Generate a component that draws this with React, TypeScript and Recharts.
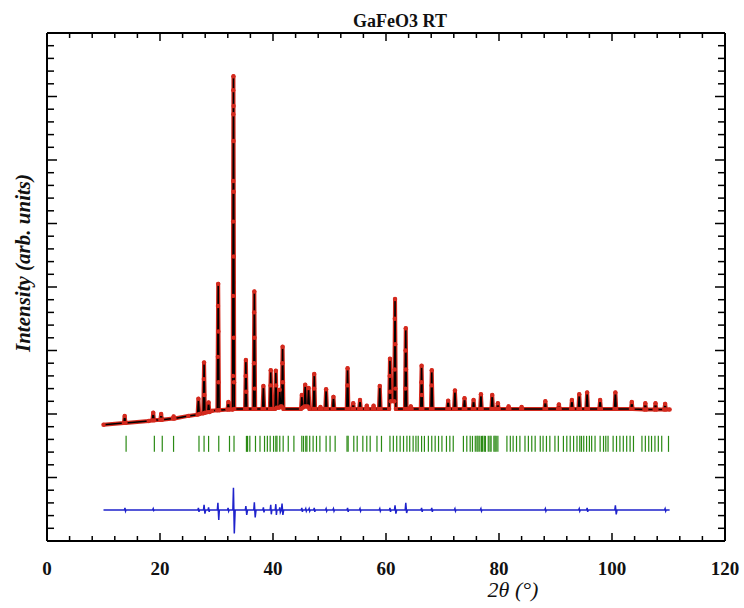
import React from "react";
import { ComposedChart, Line, Scatter, XAxis, YAxis } from "recharts";

// Calculated profile: [2θ, intensity]
const profile: [number, number][] = [
  [10.0, 1.83], [13.6, 1.86], [13.75, 1.97], [13.9, 1.86],
  [18.0, 1.89], [18.65, 1.9], [18.8, 2.02], [18.95, 1.9], [20.05, 1.91], [20.2, 2.0], [20.35, 1.91],
  [22.3, 1.93], [22.42, 1.96], [22.55, 1.93], [25.0, 1.97],
  [26.65, 1.99], [26.8, 2.24], [26.95, 2.0], [27.65, 2.01], [27.8, 2.81], [27.95, 2.02],
  [28.45, 2.03], [28.6, 2.18], [28.75, 2.03], [29.2, 2.05], [30.15, 2.06], [30.3, 4.05], [30.45, 2.06],
  [31.95, 2.07], [32.1, 2.19], [32.25, 2.07], [32.85, 2.07], [33.0, 7.32], [33.15, 2.08],
  [35.05, 2.08], [35.2, 2.85], [35.35, 2.08], [36.55, 2.08], [36.7, 3.93], [36.85, 2.08],
  [38.15, 2.08], [38.3, 2.44], [38.45, 2.08], [39.45, 2.08], [39.6, 2.69], [39.75, 2.08],
  [40.35, 2.08], [40.5, 2.68], [40.65, 2.1], [41.05, 2.1], [41.2, 2.38], [41.35, 2.12],
  [41.55, 2.12], [41.7, 3.06], [41.85, 2.08], [44.95, 2.08], [45.1, 2.3], [45.25, 2.1],
  [45.55, 2.12], [45.7, 2.46], [45.85, 2.12], [46.15, 2.12], [46.3, 2.41], [46.45, 2.08],
  [47.15, 2.08], [47.3, 2.63], [47.45, 2.08], [48.25, 2.08], [48.4, 2.11], [48.55, 2.08],
  [49.25, 2.08], [49.4, 2.39], [49.55, 2.08], [50.55, 2.08], [50.7, 2.27], [50.85, 2.08],
  [53.05, 2.08], [53.2, 2.72], [53.35, 2.08], [54.05, 2.08], [54.2, 2.17], [54.35, 2.08],
  [55.25, 2.08], [55.4, 2.22], [55.55, 2.08], [56.45, 2.08], [56.6, 2.13], [56.75, 2.08],
  [57.65, 2.08], [57.8, 2.13], [57.95, 2.08], [58.75, 2.08], [58.9, 2.44], [59.05, 2.08],
  [60.55, 2.08], [60.7, 2.87], [60.85, 2.2], [61.45, 2.2], [61.6, 3.81], [61.75, 2.08],
  [63.35, 2.08], [63.5, 3.35], [63.65, 2.08], [64.25, 2.08], [64.4, 2.12], [64.55, 2.08],
  [66.15, 2.08], [66.3, 2.76], [66.45, 2.08], [67.95, 2.08], [68.1, 2.69], [68.25, 2.08],
  [70.85, 2.08], [71.0, 2.21], [71.15, 2.08], [72.05, 2.08], [72.2, 2.37], [72.35, 2.08],
  [73.75, 2.08], [73.9, 2.25], [74.05, 2.08], [75.35, 2.08], [75.5, 2.22], [75.65, 2.08],
  [76.65, 2.08], [76.8, 2.31], [76.95, 2.08], [78.65, 2.08], [78.8, 2.3], [78.95, 2.08],
  [79.65, 2.08], [79.8, 2.17], [79.95, 2.08], [81.55, 2.08], [81.7, 2.12], [81.85, 2.08],
  [83.9, 2.08], [84.0, 2.11], [84.1, 2.08], [88.05, 2.08], [88.2, 2.2], [88.35, 2.08],
  [90.45, 2.08], [90.6, 2.15], [90.75, 2.08], [92.75, 2.08], [92.9, 2.22], [93.05, 2.08],
  [94.05, 2.08], [94.2, 2.31], [94.35, 2.08], [95.45, 2.08], [95.6, 2.34], [95.75, 2.08],
  [97.75, 2.08], [97.9, 2.22], [98.05, 2.08], [100.45, 2.08], [100.6, 2.34], [100.75, 2.08],
  [103.35, 2.08], [103.5, 2.19], [103.65, 2.08], [105.75, 2.07], [105.9, 2.17], [106.05, 2.07],
  [107.55, 2.07], [107.7, 2.17], [107.85, 2.07], [109.25, 2.07], [109.4, 2.16], [109.55, 2.07],
  [110.2, 2.07],
];

// Extra observed points read along the flanks of the strong reflections
const observedFlanks: [number, number][] = [
  [32.97, 7.1], [33.03, 6.85], [32.98, 6.72], [33.02, 6.3], [32.96, 5.67], [33.04, 5.5],
  [32.95, 5.03], [33.05, 4.48], [32.94, 3.86], [33.07, 3.2], [32.92, 2.6], [33.1, 2.5],
  [30.26, 3.7], [30.33, 3.3], [30.24, 2.9], [30.36, 2.5],
  [36.66, 3.6], [36.73, 3.2], [36.64, 2.8], [36.76, 2.4],
  [61.56, 3.5], [61.63, 3.1], [61.54, 2.7], [61.66, 2.4],
  [63.46, 3.0], [63.54, 2.7], [63.44, 2.4],
  [41.66, 2.8], [41.74, 2.5],
  [60.66, 2.6], [60.74, 2.35],
  [35.16, 2.6], [35.24, 2.35],
  [27.76, 2.55], [27.84, 2.3],
  [66.26, 2.5], [66.34, 2.3],
  [53.17, 2.45], [39.57, 2.45], [40.53, 2.45], [68.07, 2.45], [47.27, 2.4],
];

// Difference curve (Iobs - Icalc, offset)
const difference: [number, number][] = [
  [10.0, 0.49], [13.7, 0.49], [13.8, 0.52], [13.9, 0.47], [14.0, 0.49],
  [18.7, 0.49], [18.8, 0.51], [18.9, 0.48], [19.0, 0.49],
  [26.7, 0.49], [26.8, 0.52], [26.9, 0.46], [27.0, 0.49],
  [27.7, 0.49], [27.8, 0.57], [27.95, 0.43], [28.1, 0.49],
  [28.5, 0.49], [28.6, 0.53], [28.7, 0.46], [28.8, 0.49],
  [30.15, 0.49], [30.25, 0.6], [30.4, 0.33], [30.5, 0.49],
  [31.95, 0.49], [32.05, 0.52], [32.15, 0.47], [32.25, 0.49],
  [32.9, 0.49], [33.0, 0.84], [33.15, 0.12], [33.3, 0.49],
  [35.1, 0.49], [35.2, 0.55], [35.35, 0.41], [35.5, 0.49],
  [36.6, 0.49], [36.7, 0.61], [36.85, 0.37], [37.0, 0.49],
  [38.2, 0.49], [38.3, 0.53], [38.4, 0.45], [38.5, 0.49],
  [39.5, 0.49], [39.6, 0.57], [39.7, 0.42], [39.8, 0.49],
  [40.4, 0.49], [40.5, 0.58], [40.6, 0.41], [40.7, 0.49],
  [41.1, 0.49], [41.2, 0.53], [41.3, 0.45], [41.5, 0.49],
  [41.6, 0.59], [41.75, 0.41], [41.9, 0.49],
  [45.0, 0.49], [45.1, 0.52], [45.2, 0.46], [45.3, 0.49],
  [45.7, 0.49], [45.8, 0.51], [45.9, 0.47], [46.0, 0.49],
  [46.3, 0.49], [46.4, 0.51], [46.5, 0.47], [46.6, 0.49],
  [47.2, 0.49], [47.3, 0.52], [47.4, 0.46], [47.5, 0.49],
  [49.3, 0.49], [49.4, 0.51], [49.5, 0.47], [49.6, 0.49],
  [50.6, 0.49], [50.7, 0.51], [50.8, 0.47], [50.9, 0.49],
  [53.1, 0.49], [53.2, 0.52], [53.3, 0.46], [53.4, 0.49],
  [55.3, 0.49], [55.4, 0.51], [55.5, 0.47], [55.6, 0.49],
  [58.8, 0.49], [58.9, 0.51], [59.0, 0.47], [59.1, 0.49],
  [60.6, 0.49], [60.7, 0.52], [60.8, 0.46], [60.9, 0.49],
  [61.5, 0.49], [61.6, 0.56], [61.75, 0.43], [61.9, 0.49],
  [63.4, 0.49], [63.5, 0.6], [63.65, 0.44], [63.8, 0.49],
  [66.2, 0.49], [66.3, 0.52], [66.4, 0.46], [66.5, 0.49],
  [68.0, 0.49], [68.1, 0.52], [68.2, 0.46], [68.3, 0.49],
  [72.1, 0.49], [72.2, 0.51], [72.3, 0.47], [72.4, 0.49],
  [76.7, 0.49], [76.8, 0.51], [76.9, 0.47], [77.0, 0.49],
  [88.1, 0.49], [88.2, 0.51], [88.3, 0.47], [88.4, 0.49],
  [94.1, 0.49], [94.2, 0.51], [94.3, 0.47], [94.4, 0.49],
  [95.5, 0.49], [95.6, 0.52], [95.7, 0.46], [95.8, 0.49],
  [100.5, 0.49], [100.6, 0.56], [100.75, 0.42], [100.9, 0.49],
  [109.3, 0.49], [109.4, 0.51], [109.5, 0.47], [109.6, 0.49], [110.2, 0.49],
];

// Bragg reflection positions (2θ)
const braggPositions: number[] = [
  14.0, 19.0, 20.4, 22.4, 26.9, 27.8, 28.6, 30.4, 32.3, 33.1, 35.3, 35.5, 35.9, 36.9,
  37.7, 38.5, 39.0, 39.5, 40.1, 40.5, 40.7, 41.2, 41.8, 42.7, 43.7, 45.1, 45.4, 45.8,
  46.0, 46.5, 47.1, 47.7, 48.3, 49.4, 50.1, 51.0, 53.1, 53.3, 54.3, 54.9, 55.9, 56.6,
  57.2, 58.4, 59.2, 60.7, 61.3, 61.9, 62.5, 63.1, 63.7, 64.2, 64.8, 65.3, 65.7, 66.3,
  66.8, 67.5, 68.1, 68.7, 69.3, 69.9, 70.7, 71.3, 71.9, 73.7, 74.3, 74.9, 75.3, 75.8,
  76.1, 76.3, 76.6, 76.9, 77.1, 77.4, 77.6, 78.1, 78.4, 78.6, 79.1, 79.3, 79.5, 79.8,
  81.4, 82.0, 82.5, 83.1, 83.7, 84.6, 85.2, 85.8, 86.4, 87.3, 87.8, 88.4, 89.0, 89.9,
  90.5, 91.4, 92.0, 92.6, 93.2, 93.8, 94.3, 94.6, 95.0, 95.5, 96.0, 96.4, 97.0, 97.9,
  98.5, 98.9, 99.3, 100.2, 100.8, 101.4, 102.0, 102.6, 103.2, 103.8, 105.3, 105.9,
  106.5, 107.0, 107.6, 108.2, 108.8, 110.0,
];
const braggLevel = 1.53;

const xTicks = [0, 4, 8, 12, 16, 20, 24, 28, 32, 36, 40, 44, 48, 52, 56, 60, 64, 68, 72, 76, 80, 84, 88, 92, 96, 100, 104, 108, 112, 116, 120];
const xMajor = [0, 20, 40, 60, 80, 100, 120];
const yTicks = [
  0, 0.2, 0.4, 0.6, 0.8, 1, 1.2, 1.4, 1.6, 1.8, 2, 2.2, 2.4, 2.6, 2.8, 3, 3.2, 3.4, 3.6, 3.8,
  4, 4.2, 4.4, 4.6, 4.8, 5, 5.2, 5.4, 5.6, 5.8, 6, 6.2, 6.4, 6.6, 6.8, 7, 7.2, 7.4, 7.6, 7.8, 8,
];

const calcData = profile.map(([x, y]) => ({ x, y }));
const flankData = observedFlanks.map(([x, y]) => ({ x, y }));
const diffData = difference.map(([x, y]) => ({ x, y }));
const braggData = braggPositions.map((x) => ({ x, y: braggLevel }));

const FONT = '"Liberation Serif", "Times New Roman", serif';
const RED = "#d42a1e";
const isMajorY = (v: number) => Math.abs(v - Math.round(v)) < 1e-6;

const BottomTick = (p: any) => {
  const v = p.payload.value;
  const major = xMajor.includes(v);
  return (
    <g>
      <line x1={p.x} x2={p.x} y1={p.y} y2={p.y - (major ? 8 : 5)} stroke="#000" strokeWidth={1.5} />
      {major && (
        <text x={p.x} y={p.y + 34} textAnchor="middle" fontFamily={FONT} fontWeight="bold" fontSize={19} fill="#111">
          {v}
        </text>
      )}
    </g>
  );
};
const TopTick = (p: any) => {
  const major = xMajor.includes(p.payload.value);
  return <line x1={p.x} x2={p.x} y1={p.y} y2={p.y + (major ? 8 : 5)} stroke="#000" strokeWidth={1.5} />;
};
const LeftTick = (p: any) => {
  const major = isMajorY(p.payload.value);
  return <line x1={p.x} x2={p.x + (major ? 10 : 7)} y1={p.y} y2={p.y} stroke="#000" strokeWidth={1.5} />;
};
const RightTick = (p: any) => {
  const major = isMajorY(p.payload.value);
  return <line x1={p.x} x2={p.x - (major ? 10 : 7)} y1={p.y} y2={p.y} stroke="#000" strokeWidth={1.5} />;
};

const BraggMark = (p: any) => (
  <line x1={p.cx} x2={p.cx} y1={p.cy - 8} y2={p.cy + 8} stroke="#2a8a14" strokeWidth={1.2} />
);
const RedDot = (p: any) => <circle cx={p.cx} cy={p.cy} r={2.2} fill={RED} />;

const axisLine = { stroke: "#000", strokeWidth: 2 };

export default function App() {
  return (
    <div style={{ position: "absolute", left: 0, top: 0, width: 744, height: 608, background: "#fff" }}>
      <ComposedChart width={744} height={608} margin={{ top: 32, right: 18, bottom: 66, left: 46 }}>
        <XAxis
          dataKey="x" type="number" domain={[0, 120]} ticks={xTicks} interval={0}
          height={1} tickSize={0} tickMargin={0} tickLine={false} axisLine={axisLine}
          tick={<BottomTick />} allowDataOverflow
        />
        <XAxis
          xAxisId="top" orientation="top" dataKey="x" type="number" domain={[0, 120]} ticks={xTicks}
          interval={0} height={1} tickSize={0} tickMargin={0} tickLine={false} axisLine={axisLine}
          tick={<TopTick />} allowDataOverflow
        />
        <YAxis
          type="number" domain={[0, 8]} ticks={yTicks} interval={0} width={1} tickSize={0}
          tickMargin={0} tickLine={false} axisLine={axisLine} tick={<LeftTick />} allowDataOverflow
        />
        <YAxis
          yAxisId="right" orientation="right" type="number" domain={[0, 8]} ticks={yTicks} interval={0}
          width={1} tickSize={0} tickMargin={0} tickLine={false} axisLine={axisLine} tick={<RightTick />}
          allowDataOverflow
        />
        <Scatter data={braggData} dataKey="y" shape={<BraggMark />} isAnimationActive={false} />
        <Line
          data={diffData} dataKey="y" type="linear" stroke="#1e22cc" strokeWidth={1.5}
          dot={false} isAnimationActive={false}
        />
        <Line
          data={calcData} dataKey="y" type="linear" stroke={RED} strokeWidth={4}
          strokeLinejoin="round" dot={{ r: 2.2, fill: RED, stroke: "none" }} isAnimationActive={false}
        />
        <Scatter data={flankData} dataKey="y" shape={<RedDot />} isAnimationActive={false} />
        <Line
          data={calcData} dataKey="y" type="linear" stroke="#000" strokeWidth={1.5}
          strokeLinejoin="round" dot={false} isAnimationActive={false}
        />
      </ComposedChart>
      <svg width={744} height={608} style={{ position: "absolute", left: 0, top: 0, pointerEvents: "none" }}>
        <text x={400} y={27} textAnchor="middle" fontFamily={FONT} fontWeight="bold" fontSize={18} fill="#111">
          GaFeO3 RT
        </text>
        <text
          x={30} y={263} textAnchor="middle" fontFamily={FONT} fontWeight="bold" fontStyle="italic"
          fontSize={21} fill="#111" transform="rotate(-90 30 263)"
        >
          Intensity (arb. units)
        </text>
        <text x={513} y={597} textAnchor="middle" fontFamily={FONT} fontStyle="italic" fontSize={22} fill="#111">
          2θ (°)
        </text>
      </svg>
    </div>
  );
}
